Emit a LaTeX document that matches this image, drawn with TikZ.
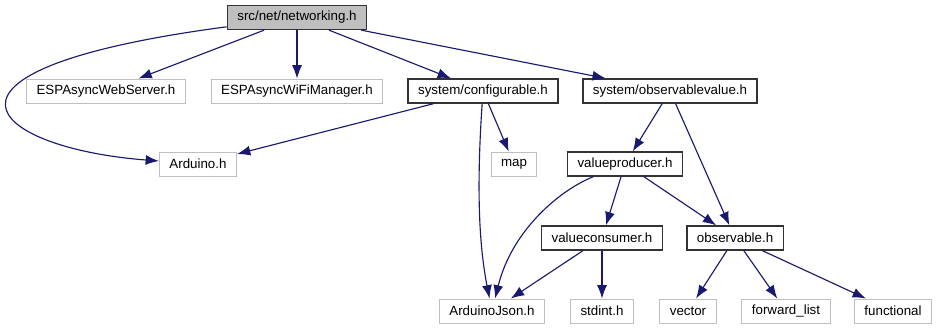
\documentclass[tikz,border=0pt]{standalone}
\usepackage{fontspec}
\setmainfont{Liberation Sans}
\usepackage{tikz}
\usetikzlibrary{arrows.meta}

\definecolor{edgeblue}{HTML}{191970}
\definecolor{boxgray}{HTML}{BFBFBF}

\begin{document}
\begin{tikzpicture}[x=0.75pt,y=-0.75pt,font=\fontsize{10}{12}\selectfont,
  file/.style={draw=black!80,line width=1pt,rectangle,minimum height=18pt,inner xsep=7.5pt,inner ysep=0pt},
  sysfile/.style={draw=boxgray,line width=0.75pt,rectangle,minimum height=18pt,inner xsep=7.5pt,inner ysep=0pt},
  root/.style={file,fill=boxgray},
  dep/.style={edgeblue,line width=0.85pt,-{Latex[length=10pt,width=7.5pt]}}]
\useasboundingbox (0,0) rectangle (938,329);
% top level
\node[root] (net) at (297,17.5) {src/net/networking.h};
% second row
\node[sysfile] (web) at (106,91) {ESPAsyncWebServer.h};
\node[sysfile] (wifi) at (297,91) {ESPAsyncWiFiManager.h};
\node[file] (cfg) at (483,91) {system/configurable.h};
\node[file] (obsval) at (670,91) {system/observablevalue.h};
% third row
\node[sysfile] (ard) at (198,164) {Arduino.h};
\node[sysfile] (map) at (514,164) {map};
\node[file] (prod) at (625,164) {valueproducer.h};
% fourth row
\node[file] (cons) at (602,238) {valueconsumer.h};
\node[file] (obs) at (735,238) {observable.h};
% bottom row
\node[sysfile] (json) at (492,311) {ArduinoJson.h};
\node[sysfile] (stdint) at (602,311) {stdint.h};
\node[sysfile] (vec) at (688,311) {vector};
\node[sysfile] (fwd) at (786,311) {forward\_list};
\node[sysfile] (func) at (893,311) {functional};
% includes of networking.h
\draw[dep] (net) .. controls (-100,70) and (-10,148) .. (ard);
\draw[dep] (net) -- (web);
\draw[dep] (net) -- (wifi);
\draw[dep] (net) -- (cfg);
\draw[dep] (net) -- (obsval);
% configurable.h
\draw[dep] (cfg) -- (ard);
\draw[dep] (cfg) -- (map);
\draw[dep] (cfg) .. controls (477,180) and (478,240) .. (json);
% observablevalue.h
\draw[dep] (obsval) -- (prod);
\draw[dep] (obsval) -- (obs);
% valueproducer.h
\draw[dep] (prod) .. controls (560,190) and (512,230) .. (json);
\draw[dep] (prod) -- (cons);
\draw[dep] (prod) -- (obs);
% valueconsumer.h
\draw[dep] (cons) -- (json);
\draw[dep] (cons) -- (stdint);
% observable.h
\draw[dep] (obs) -- (vec);
\draw[dep] (obs) -- (fwd);
\draw[dep] (obs) -- (func);
\end{tikzpicture}
\end{document}
